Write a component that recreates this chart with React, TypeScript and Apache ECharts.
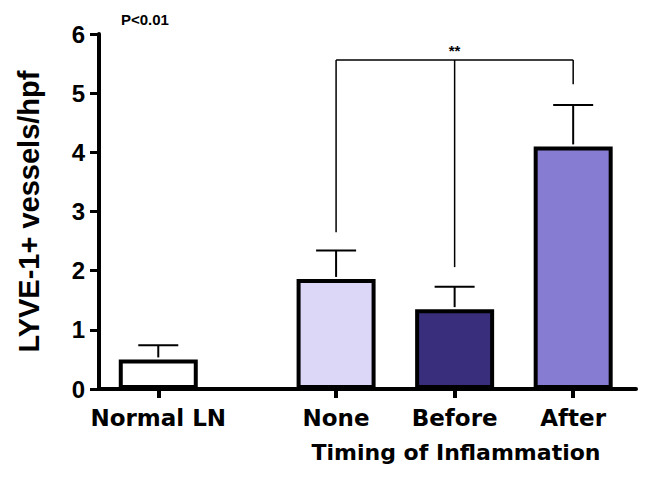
import React, { useEffect, useRef } from "react";
import * as echarts from "echarts";

const categories = ["Normal LN", "None", "Before", "After"];
const positions = [0, 1.5, 2.5, 3.5];
const means = [0.5, 1.86, 1.35, 4.1];
const errorTops = [0.74, 2.34, 1.73, 4.8];
const barColors = ["#ffffff", "#dcd6f7", "#382e7c", "#867dd2"];

const bracketPositions = [1.5, 2.5, 3.5];
const bracketBottoms = [2.65, 2.06, 5.15];
const bracketTop = 5.56;
const bracketLabel = "**";

const yMin = 0;
const yMax = 6;
const yInterval = 1;

export default function App() {
  const ref = useRef<HTMLDivElement>(null);

  useEffect(() => {
    if (!ref.current) return;
    const chart = echarts.init(ref.current, null, { renderer: "svg" });

    const option: any = {
      animation: false,
      backgroundColor: "#ffffff",
      grid: { left: 99, right: 33, top: 34, bottom: 101 },
      xAxis: {
        type: "value",
        min: -0.5,
        max: 4.03,
        splitLine: { show: false },
        axisLine: { show: true, onZero: false, lineStyle: { color: "#000", width: 4 } },
        axisTick: {
          show: true,
          customValues: positions,
          length: 9,
          lineStyle: { color: "#000", width: 4 },
        },
        axisLabel: {
          customValues: positions,
          formatter: (v: number) => {
            const i = positions.indexOf(v);
            return i >= 0 ? categories[i] : "";
          },
          fontSize: 23,
          fontWeight: "bold",
          fontFamily: "DejaVu Sans",
          color: "#000",
          margin: 17,
        },
      },
      yAxis: {
        type: "value",
        min: yMin,
        max: yMax,
        interval: yInterval,
        name: "LYVE-1+ vessels/hpf",
        nameLocation: "middle",
        nameGap: 56,
        nameTextStyle: {
          fontSize: 29,
          fontWeight: "bold",
          fontFamily: "Liberation Sans, Arial",
          color: "#000",
        },
        splitLine: { show: false },
        axisLine: { show: true, onZero: false, lineStyle: { color: "#000", width: 4 } },
        axisTick: { show: true, length: 9, lineStyle: { color: "#000", width: 3 } },
        axisLabel: {
          fontSize: 24,
          fontWeight: "bold",
          fontFamily: "Liberation Sans, Arial",
          color: "#000",
          margin: 14,
        },
      },
      series: [
        {
          type: "bar",
          barWidth: 79,
          z: 2,
          data: positions.map((p, i) => ({
            value: [p, means[i]],
            itemStyle: { color: barColors[i], borderColor: "#000", borderWidth: 4 },
          })),
        },
        {
          type: "custom",
          z: 3,
          data: positions.map((p, i) => [p, means[i], errorTops[i]]),
          renderItem: (params: any, api: any) => {
            const x = api.value(0);
            const lo = api.coord([x, api.value(1)]);
            const hi = api.coord([x, api.value(2)]);
            const half = 20;
            return {
              type: "group",
              children: [
                {
                  type: "line",
                  shape: { x1: lo[0], y1: lo[1] - 2, x2: hi[0], y2: hi[1] },
                  style: { stroke: "#000", lineWidth: 2 },
                },
                {
                  type: "line",
                  shape: { x1: hi[0] - half, y1: hi[1], x2: hi[0] + half, y2: hi[1] },
                  style: { stroke: "#000", lineWidth: 2 },
                },
              ],
            };
          },
        },
        {
          type: "custom",
          z: 3,
          data: bracketPositions.map((p, i) => [p, bracketBottoms[i]]),
          renderItem: (params: any, api: any) => {
            const x = api.value(0);
            const b = api.coord([x, api.value(1)]);
            const t = api.coord([x, bracketTop]);
            const children: any[] = [
              {
                type: "line",
                shape: { x1: b[0], y1: b[1], x2: t[0], y2: t[1] },
                style: { stroke: "#000", lineWidth: 1.5 },
              },
            ];
            if (params.dataIndex === 0) {
              const l = api.coord([bracketPositions[0], bracketTop]);
              const r = api.coord([bracketPositions[bracketPositions.length - 1], bracketTop]);
              const m = api.coord([bracketPositions[1], bracketTop]);
              children.push({
                type: "line",
                shape: { x1: l[0], y1: l[1], x2: r[0], y2: r[1] },
                style: { stroke: "#000", lineWidth: 1.5 },
              });
              children.push({
                type: "text",
                x: m[0],
                y: m[1] - 2,
                style: {
                  text: bracketLabel,
                  align: "center",
                  verticalAlign: "bottom",
                  fontSize: 15,
                  fontWeight: "bold",
                  fontFamily: "Liberation Sans, Arial",
                  fill: "#000",
                },
              });
            }
            return { type: "group", children };
          },
        },
      ],
      graphic: [
        {
          type: "text",
          left: 121,
          top: 12,
          style: {
            text: "P<0.01",
            fontSize: 15,
            fontWeight: "bold",
            fontFamily: "Liberation Sans, Arial",
            fill: "#000",
          },
        },
        {
          type: "text",
          x: 456,
          y: 452,
          style: {
            text: "Timing of Inflammation",
            align: "center",
            verticalAlign: "middle",
            fontSize: 22,
            fontWeight: "bold",
            fontFamily: "DejaVu Sans",
            fill: "#000",
          },
        },
      ],
    };

    chart.setOption(option);
    return () => chart.dispose();
  }, []);

  return (
    <div
      ref={ref}
      style={{ position: "fixed", left: 0, top: 0, width: 669, height: 490, background: "#fff" }}
    />
  );
}
